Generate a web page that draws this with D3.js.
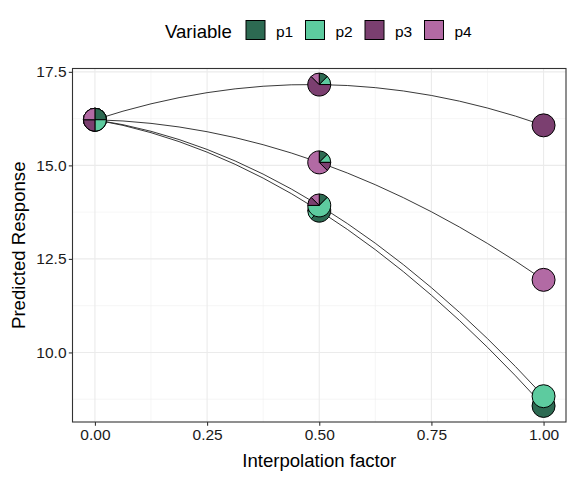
<!DOCTYPE html>
<html>
<head>
<meta charset="utf-8">
<script src="https://cdn.jsdelivr.net/npm/d3@7"></script>
<style>
  body { margin: 0; background: #fff; }
  text { font-family: "Liberation Sans", Arial, sans-serif; }
</style>
</head>
<body>
<svg id="chart" width="576" height="480"></svg>
<script>
// interpolation factors on the x axis
const factors = [0, 0.5, 1];
const variables = ["p1", "p2", "p3", "p4"];
const colours = ["#2D6A52", "#5DCB9F", "#7B3F70", "#B26AA4"];

// predicted response for each variable at each factor
const p1Response = [16.22, 13.79, 8.57];
const p2Response = [16.22, 13.93, 8.83];
const p3Response = [16.22, 17.16, 16.07];
const p4Response = [16.22, 15.08, 11.94];
const responses = [p1Response, p2Response, p3Response, p4Response];

// pie shares: the chosen variable vs the other three
const targetShare = [0.25, 0.625, 1];
const otherShare = [0.25, 0.125, 0];

const xTicks = [0, 0.25, 0.5, 0.75, 1];
const xMinor = [0.125, 0.375, 0.625, 0.875];
const yTicks = [10, 12.5, 15, 17.5];
const yMinor = [8.75, 11.25, 13.75, 16.25];

const svg = d3.select("#chart");
const pLeft = 72.5, pRight = 566, pTop = 68.5, pBottom = 422;

const x = d3.scaleLinear().domain([-0.05, 1.05]).range([pLeft, pRight]);
const allY = responses.flat();
const [ymin, ymax] = d3.extent(allY);
const pad = (ymax - ymin) * 0.05;
const y = d3.scaleLinear().domain([ymin - pad, ymax + pad]).range([pBottom, pTop]);

svg.append("rect").attr("width", 576).attr("height", 480).attr("fill", "#fff");

// grid
const grid = svg.append("g");
grid.selectAll(".xm").data(xMinor).join("line")
  .attr("x1", d => x(d)).attr("x2", d => x(d)).attr("y1", pTop).attr("y2", pBottom)
  .attr("stroke", "#f0f0f0").attr("stroke-width", 0.6);
grid.selectAll(".ym").data(yMinor).join("line")
  .attr("y1", d => y(d)).attr("y2", d => y(d)).attr("x1", pLeft).attr("x2", pRight)
  .attr("stroke", "#f0f0f0").attr("stroke-width", 0.6);
grid.selectAll(".xM").data(xTicks).join("line")
  .attr("x1", d => x(d)).attr("x2", d => x(d)).attr("y1", pTop).attr("y2", pBottom)
  .attr("stroke", "#ebebeb").attr("stroke-width", 1.1);
grid.selectAll(".yM").data(yTicks).join("line")
  .attr("y1", d => y(d)).attr("y2", d => y(d)).attr("x1", pLeft).attr("x2", pRight)
  .attr("stroke", "#ebebeb").attr("stroke-width", 1.1);

// quadratic fit through the three points of each variable
const curvePath = vals => {
  const p = d3.path();
  const x0 = x(factors[0]), x1 = x(factors[1]), x2 = x(factors[2]);
  const y0 = y(vals[0]), y1 = y(vals[1]), y2 = y(vals[2]);
  p.moveTo(x0, y0);
  p.quadraticCurveTo(2 * x1 - (x0 + x2) / 2, 2 * y1 - (y0 + y2) / 2, x2, y2);
  return p.toString();
};
svg.append("g").selectAll("path").data(responses).join("path")
  .attr("d", curvePath)
  .attr("fill", "none").attr("stroke", "#222").attr("stroke-width", 0.9);

// pie glyphs
const pie = d3.pie().sort(null).value(d => d.share);
const arc = d3.arc().innerRadius(0).outerRadius(11.5);
const points = [];
factors.forEach((f, i) => {
  variables.forEach((v, vi) => {
    const shares = variables.map((u, ui) => ({
      key: u, colour: colours[ui], share: ui === vi ? targetShare[i] : otherShare[i]
    })).filter(d => d.share > 0);
    points.push({ f, val: responses[vi][i], shares });
  });
});
const glyph = svg.append("g").selectAll("g").data(points).join("g")
  .attr("transform", d => `translate(${x(d.f)},${y(d.val)})`);
glyph.selectAll("path").data(d => pie(d.shares)).join("path")
  .attr("d", arc)
  .attr("fill", d => d.data.colour)
  .attr("stroke", "#000").attr("stroke-width", 1)
  .attr("stroke-linejoin", "round");

// panel border
svg.append("rect").attr("x", pLeft).attr("y", pTop)
  .attr("width", pRight - pLeft).attr("height", pBottom - pTop)
  .attr("fill", "none").attr("stroke", "#333").attr("stroke-width", 1.1);

// axes
const xAxis = svg.append("g").attr("transform", `translate(0,${pBottom})`)
  .call(d3.axisBottom(x).tickValues(xTicks).tickFormat(d3.format(".2f")).tickSizeInner(3.7).tickSizeOuter(0));
const yAxis = svg.append("g").attr("transform", `translate(${pLeft},0)`)
  .call(d3.axisLeft(y).tickValues(yTicks).tickFormat(d3.format(".1f")).tickSizeInner(3.7).tickSizeOuter(0));
[xAxis, yAxis].forEach(a => {
  a.select(".domain").remove();
  a.selectAll(".tick line").attr("stroke", "#333").attr("stroke-width", 1.1);
  a.selectAll(".tick text").attr("fill", "#1a1a1a").style("font-size", "15.5px")
    .style("font-family", "'Liberation Sans', Arial, sans-serif");
});
xAxis.selectAll(".tick text").attr("y", 7.3).attr("dy", "0.71em");
yAxis.selectAll(".tick text").attr("x", -6);

svg.append("text").attr("x", (pLeft + pRight) / 2).attr("y", 466.5)
  .attr("text-anchor", "middle").style("font-size", "18.6px").text("Interpolation factor");
svg.append("text").attr("transform", `translate(25,${(pTop + pBottom) / 2}) rotate(-90)`)
  .attr("text-anchor", "middle").style("font-size", "18.6px").text("Predicted Response");

// legend
const legend = svg.append("g");
legend.append("text").attr("x", 165).attr("y", 37.6).style("font-size", "18.6px").text("Variable");
const keys = legend.selectAll("g").data(variables).join("g")
  .attr("transform", (d, i) => `translate(${246 + i * 59.5},20.5)`);
keys.append("rect").attr("width", 19).attr("height", 19)
  .attr("fill", (d, i) => colours[i]).attr("stroke", "#000").attr("stroke-width", 1);
keys.append("text").attr("x", 30).attr("y", 16).style("font-size", "15.5px").text(d => d);
</script>
</body>
</html>
